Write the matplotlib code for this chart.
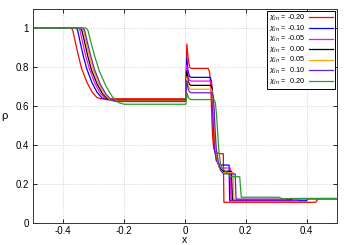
import matplotlib
matplotlib.use("Agg")
import matplotlib.pyplot as plt

plt.rcParams['font.family'] = ['Liberation Sans', 'DejaVu Sans']

labels = [r'$\chi_{in}$ = -0.20', r'$\chi_{in}$ = -0.10', r'$\chi_{in}$ = -0.05',
          r'$\chi_{in}$ =  0.00', r'$\chi_{in}$ =  0.05', r'$\chi_{in}$ =  0.10',
          r'$\chi_{in}$ =  0.20']
colors = ['#ff0000', '#0000ff', '#ff00ff', '#000000', '#ffa500', '#6a1fc8', '#2e9a2e']

# density profiles
x_red = [-0.5, -0.374, -0.369, -0.361, -0.351, -0.340, -0.323, -0.306, -0.290, -0.276,
         0.002, 0.006, 0.010, 0.015, 0.020,
         0.076, 0.081, 0.085, 0.088, 0.091, 0.095, 0.100, 0.110, 0.126, 0.128, 0.430, 0.438, 0.5]
r_red = [1.0, 1.0, 0.989, 0.931, 0.862, 0.793, 0.724, 0.673, 0.644, 0.637,
         0.637, 0.918, 0.85, 0.80, 0.793,
         0.793, 0.775, 0.70, 0.55, 0.44, 0.38, 0.362, 0.356, 0.355, 0.106, 0.106, 0.125, 0.125]

x_blue = [-0.5, -0.358, -0.353, -0.345, -0.335, -0.323, -0.306, -0.289, -0.272, -0.258,
          0.002, 0.006, 0.010, 0.015, 0.020,
          0.083, 0.087, 0.090, 0.093, 0.097, 0.103, 0.112, 0.120, 0.145, 0.147, 0.400, 0.404, 0.5]
r_blue = [1.0, 1.0, 0.989, 0.930, 0.861, 0.791, 0.721, 0.670, 0.640, 0.633,
          0.633, 0.845, 0.78, 0.752, 0.747,
          0.747, 0.727, 0.647, 0.50, 0.38, 0.32, 0.302, 0.297, 0.297, 0.114, 0.114, 0.125, 0.125]

x_mag = [-0.5, -0.350, -0.345, -0.337, -0.327, -0.314, -0.297, -0.280, -0.262, -0.248,
         0.002, 0.006, 0.010, 0.015, 0.020,
         0.084, 0.088, 0.091, 0.094, 0.098, 0.104, 0.113, 0.122, 0.149, 0.151, 0.370, 0.374, 0.5]
r_mag = [1.0, 1.0, 0.989, 0.930, 0.860, 0.790, 0.720, 0.668, 0.638, 0.631,
         0.631, 0.81, 0.755, 0.732, 0.728,
         0.728, 0.708, 0.628, 0.50, 0.38, 0.32, 0.29, 0.282, 0.282, 0.118, 0.118, 0.125, 0.125]

x_blk = [-0.5, -0.344, -0.339, -0.330, -0.320, -0.308, -0.290, -0.272, -0.255, -0.240,
         0.002, 0.006, 0.010, 0.015, 0.020,
         0.086, 0.090, 0.093, 0.096, 0.100, 0.106, 0.113, 0.119, 0.126, 0.153, 0.156,
         0.350, 0.354, 0.5]
r_blk = [1.0, 1.0, 0.989, 0.929, 0.859, 0.788, 0.717, 0.665, 0.636, 0.628,
         0.628, 0.78, 0.73, 0.71, 0.706,
         0.706, 0.686, 0.606, 0.49, 0.38, 0.32, 0.285, 0.276, 0.265, 0.265, 0.120,
         0.120, 0.125, 0.125]

x_org = [-0.5, -0.339, -0.334, -0.325, -0.315, -0.302, -0.284, -0.266, -0.248, -0.233,
         0.002, 0.006, 0.010, 0.015, 0.020,
         0.087, 0.091, 0.094, 0.097, 0.101, 0.107, 0.115, 0.124, 0.158, 0.161, 0.330, 0.334, 0.5]
r_org = [1.0, 1.0, 0.989, 0.929, 0.858, 0.787, 0.716, 0.663, 0.633, 0.626,
         0.626, 0.75, 0.71, 0.69, 0.686,
         0.686, 0.666, 0.59, 0.49, 0.38, 0.32, 0.275, 0.258, 0.258, 0.121, 0.121, 0.125, 0.125]

x_pur = [-0.5, -0.335, -0.330, -0.321, -0.310, -0.297, -0.279, -0.260, -0.242, -0.227,
         0.002, 0.006, 0.010, 0.015, 0.020,
         0.089, 0.093, 0.096, 0.099, 0.103, 0.109, 0.117, 0.127, 0.165, 0.168, 0.340, 0.345, 0.5]
r_pur = [1.0, 1.0, 0.989, 0.928, 0.857, 0.785, 0.713, 0.661, 0.631, 0.623,
         0.623, 0.73, 0.69, 0.672, 0.668,
         0.668, 0.648, 0.58, 0.48, 0.38, 0.32, 0.27, 0.252, 0.252, 0.122, 0.122, 0.125, 0.125]

x_grn = [-0.5, -0.325, -0.319, -0.309, -0.296, -0.281, -0.260, -0.239, -0.218, -0.200,
         0.003, 0.007, 0.011, 0.016, 0.021,
         0.096, 0.100, 0.104, 0.108, 0.112, 0.117, 0.122, 0.130, 0.150, 0.180, 0.185,
         0.310, 0.318, 0.5]
r_grn = [1.0, 1.0, 0.988, 0.926, 0.851, 0.777, 0.703, 0.648, 0.617, 0.609,
         0.609, 0.665, 0.645, 0.636, 0.633,
         0.633, 0.615, 0.55, 0.45, 0.36, 0.30, 0.28, 0.27, 0.238, 0.237, 0.132,
         0.132, 0.125, 0.125]

xs = [x_red, x_blue, x_mag, x_blk, x_org, x_pur, x_grn]
rs = [r_red, r_blue, r_mag, r_blk, r_org, r_pur, r_grn]

fig = plt.figure(figsize=(3.5, 2.45), dpi=100)
ax = fig.add_axes([0.094, 0.090, 0.869, 0.875])

for x, r, c, lab in zip(xs, rs, colors, labels):
    ax.plot(x, r, color=c, lw=0.9, label=lab)

ax.set_xlim(-0.5, 0.5)
ax.set_ylim(0, 1.1)
ax.set_xticks([-0.4, -0.2, 0, 0.2, 0.4])
ax.set_xticklabels(['-0.4', '-0.2', '0', '0.2', '0.4'])
ax.set_yticks([0, 0.2, 0.4, 0.6, 0.8, 1.0])
ax.set_yticklabels(['0', '0.2', '0.4', '0.6', '0.8', '1'])
ax.tick_params(direction='in', top=True, right=True, length=3, width=0.6,
               labelsize=7, pad=3)
ax.tick_params(axis='x', pad=2)
ax.grid(True, color='#c8c8c8', linestyle=':', linewidth=0.6)
for s in ax.spines.values():
    s.set_linewidth(0.7)
    s.set_color('#333333')

ax.set_xlabel('x', fontsize=7.5, labelpad=-0.5)
ax.set_ylabel('ρ', fontsize=8, rotation=0, labelpad=8, va='center')

leg = ax.legend(loc='upper right', fontsize=5.3, markerfirst=False, fancybox=False,
                framealpha=1, edgecolor='black', handlelength=3.2, labelspacing=0.05,
                borderpad=0.3, handletextpad=0.5, borderaxespad=0.3)
leg.get_frame().set_linewidth(0.7)

fig.savefig('out.png', dpi=100)
